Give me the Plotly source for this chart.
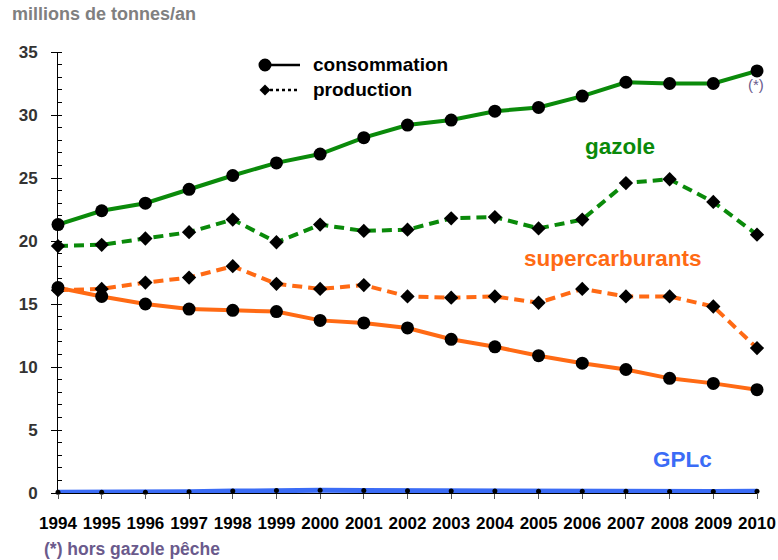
import plotly.graph_objects as go

years = list(range(1994, 2011))
gazole_conso = [21.3, 22.4, 23.0, 24.1, 25.2, 26.2, 26.9, 28.2, 29.2, 29.6, 30.3, 30.6, 31.5, 32.6, 32.5, 32.5, 33.5]
gazole_prod = [19.6, 19.7, 20.2, 20.7, 21.7, 19.9, 21.3, 20.8, 20.9, 21.8, 21.9, 21.0, 21.7, 24.6, 24.9, 23.1, 20.5]
super_conso = [16.3, 15.6, 15.0, 14.6, 14.5, 14.4, 13.7, 13.5, 13.1, 12.2, 11.6, 10.9, 10.3, 9.8, 9.1, 8.7, 8.2]
super_prod = [16.1, 16.2, 16.7, 17.1, 18.0, 16.6, 16.2, 16.5, 15.6, 15.5, 15.6, 15.1, 16.2, 15.6, 15.6, 14.8, 11.5]
gplc_conso = [0.05, 0.05, 0.06, 0.1, 0.15, 0.2, 0.22, 0.2, 0.18, 0.16, 0.15, 0.14, 0.13, 0.13, 0.12, 0.12, 0.13]

y_ticks = [0, 5, 10, 15, 20, 25, 30, 35]

GREEN = "#0a8a0a"
ORANGE = "#ff6a14"
BLUE = "#3b6cf6"
PURPLE = "#6a5a8c"
FONT = "Liberation Sans"

fig = go.Figure()

def add(y, color, dash, symbol, msize, width):
    fig.add_trace(go.Scatter(
        x=years, y=y, mode="lines+markers",
        line=dict(color=color, width=width, dash=dash),
        marker=dict(symbol=symbol, size=msize, color="black"),
        cliponaxis=False, showlegend=False, hoverinfo="x+y"))

add(gazole_prod, GREEN, "10px,6px", "diamond", 11, 4)
add(gazole_conso, GREEN, "solid", "circle", 13, 4)
add(super_prod, ORANGE, "10px,6px", "diamond", 11, 4)
add(super_conso, ORANGE, "solid", "circle", 13, 4)
add(gplc_conso, BLUE, "solid", "circle", 5, 5)

# legend (custom, drawn in paper space)
def px2x(px):
    return (px - 58) / 699

def py2y(py):
    return (493 - py) / 441

shapes = [
    dict(type="line", xref="paper", yref="paper", x0=px2x(266), x1=px2x(300),
         y0=py2y(65), y1=py2y(65), line=dict(color="black", width=2.5)),
    dict(type="circle", xref="paper", yref="paper", xsizemode="pixel", ysizemode="pixel",
         xanchor=px2x(265), yanchor=py2y(65), x0=-6.5, x1=6.5, y0=-6.5, y1=6.5,
         fillcolor="black", line=dict(color="black", width=0)),
    dict(type="line", xref="paper", yref="paper", x0=px2x(270), x1=px2x(300),
         y0=py2y(90), y1=py2y(90), line=dict(color="black", width=2.5, dash="3px,3px")),
    dict(type="path", xref="paper", yref="paper", xsizemode="pixel", ysizemode="pixel",
         xanchor=px2x(265), yanchor=py2y(90), path="M -5.5 0 L 0 5.5 L 5.5 0 L 0 -5.5 Z",
         fillcolor="black", line=dict(color="black", width=0)),
]

def ann(text, px, py, size, color, xanchor="left", weight="bold"):
    return dict(text=text, x=px2x(px), y=py2y(py), xref="paper", yref="paper",
                xanchor=xanchor, yanchor="middle", showarrow=False,
                font=dict(size=size, color=color, family=FONT, weight=weight))

annotations = [
    ann("consommation", 311, 65, 19, "black"),
    ann("production", 311, 90, 19, "black"),
    ann("gazole", 620, 146, 22.5, GREEN, "center"),
    ann("supercarburants", 613, 258, 22.5, ORANGE, "center"),
    ann("GPLc", 682, 459, 22.5, BLUE, "center"),
    ann("(*)", 756, 84, 15, PURPLE, "center", "normal"),
    ann("millions de tonnes/an", 10, 14, 18, "#808080"),
    ann("(*) hors gazole pêche", 42, 549, 17.5, PURPLE),
]

fig.update_layout(
    width=778, height=560,
    margin=dict(l=58, r=21, t=52, b=67),
    paper_bgcolor="white", plot_bgcolor="white",
    font=dict(family=FONT),
    shapes=shapes, annotations=annotations,
    xaxis=dict(range=[1994, 2010], tickmode="array", tickvals=years,
               ticktext=[str(y) for y in years], showgrid=False, zeroline=False,
               showline=True, linecolor="black", linewidth=1,
               ticks="outside", ticklen=5, tickcolor="#555555",
               ticklabelstandoff=10, automargin=False,
               tickfont=dict(size=17, color="black", family=FONT, weight="bold")),
    yaxis=dict(range=[0, 35], tickmode="array", tickvals=y_ticks,
               showgrid=False, zeroline=False, showline=True, linecolor="black", linewidth=1,
               ticks="outside", ticklen=6, tickcolor="black",
               minor=dict(dtick=1, ticks="inside", ticklen=4, tickcolor="black", showgrid=False),
               ticklabelstandoff=10, automargin=False,
               tickfont=dict(size=17, color="#333333", family=FONT, weight="bold")),
)

fig.write_html("out.html", config={"displayModeBar": False},
               post_script="document.body.style.margin='0';document.body.style.padding='0';")
